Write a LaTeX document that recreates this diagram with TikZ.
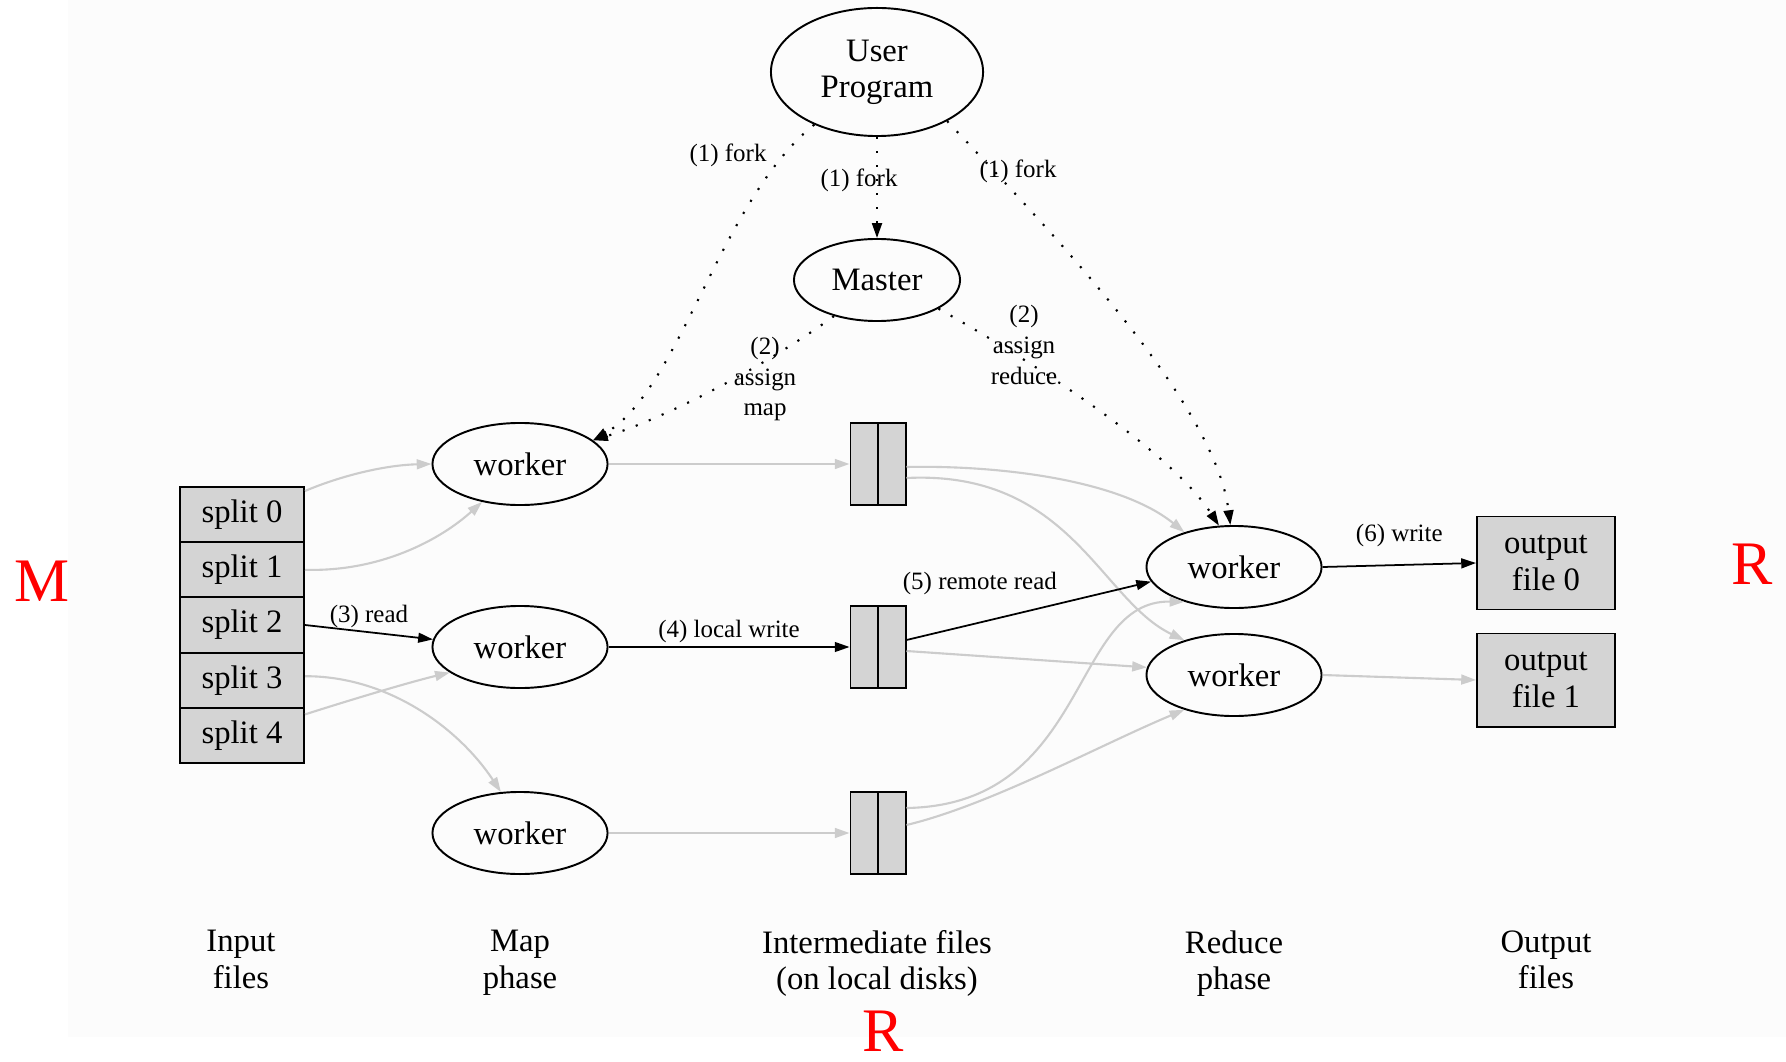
\documentclass[tikz,border=0pt]{standalone}
\usepackage{fontspec}
\setmainfont{Liberation Serif}
\usetikzlibrary{arrows.meta,positioning,calc,shapes.geometric}

\begin{document}
\begin{tikzpicture}[
  x=0.01cm, y=-0.01cm,
  proc/.style={draw, ellipse, line width=0.55pt, minimum width=1.75cm,
    minimum height=0.82cm, inner sep=0pt, align=center,
    font=\fontsize{9.3}{10.3}\selectfont},
  filebox/.style={draw, fill=black!17, line width=0.55pt, inner sep=0pt,
    align=center, font=\fontsize{9.3}{10.7}\selectfont},
  lbl/.style={font=\fontsize{7.1}{8.8}\selectfont, align=center, inner sep=1pt},
  phase/.style={font=\fontsize{9.3}{10.3}\selectfont, align=center,
    anchor=north},
  redtag/.style={text=red, font=\fontsize{17.6}{20}\selectfont},
  data/.style={->, line width=0.5pt},
  faint/.style={data, black!20, line width=0.6pt},
  ctrl/.style={->, line width=0.6pt, dash pattern=on 0.6pt off 3.4pt},
  >={Triangle[length=4.2pt,width=2.8pt]}
]
% background
\fill[black!1] (68,0) rectangle (1786,1037);
\useasboundingbox (0,0) rectangle (1786,1061);

% user program and master
\node[proc, minimum width=2.12cm, minimum height=1.28cm] (up) at (877,72)
  {User\\Program};
\node[proc, minimum width=1.66cm] (master) at (877,280) {Master};

% input splits
\foreach \i/\y in {0/514.6, 1/569.8, 2/625, 3/680.2, 4/735.4}
  \node[filebox, minimum width=1.24cm, minimum height=0.552cm] (split\i)
    at (242,\y) {split \i};

% map workers
\node[proc] (mw0) at (520,464) {worker};
\node[proc] (mw1) at (520,647) {worker};
\node[proc] (mw2) at (520,833) {worker};

% intermediate files
\foreach \i/\y in {0/464, 1/647, 2/833} {
  \node[filebox, minimum width=0.55cm, minimum height=0.82cm] (ifile\i)
    at (878,\y) {};
  \draw[line width=0.55pt] (ifile\i.north) -- (ifile\i.south);
}

% reduce workers
\node[proc] (rw0) at (1234,567) {worker};
\node[proc] (rw1) at (1234,675) {worker};

% output files
\node[filebox, minimum width=1.38cm, minimum height=0.93cm] (out0)
  at (1546,563) {output\\file 0};
\node[filebox, minimum width=1.38cm, minimum height=0.93cm] (out1)
  at (1546,680) {output\\file 1};

% phase labels
\node[phase] (inlbl) at (241,918) {Input\\files};
\node[phase] (maplbl) at (520,918) {Map\\phase};
\node[phase] (midlbl) at (877,918) {Intermediate files\\(on local disks)};
\node[phase] (redlbl) at (1234,918) {Reduce\\phase};
\node[phase] (outlbl) at (1546,918) {Output\\files};

% red tags
\node[redtag] (tagM) at (42,581) {M};
\node[redtag] (tagR) at (1752,564) {R};
\node[redtag] (tagRb) at (883,1031) {R};

% fork and assign
\draw[ctrl] (up.220) .. controls (720,200) and (680,390) .. (mw0.18)
  node[lbl] at (728,155) {(1) fork};
\draw[ctrl] (up.south) -- (master.north)
  node[lbl, pos=0.43, xshift=-0.18cm] {(1) fork};
\draw[ctrl] (up.325) .. controls (1040,220) and (1215,400) .. (rw0.95)
  node[lbl] at (1018,171) {(1) fork};
\draw[ctrl] (master.220) .. controls (760,370) and (660,420) .. (mw0.18)
  node[lbl] at (765,379) {(2)\\assign\\map};
\draw[ctrl] (master.335) .. controls (1030,360) and (1170,450) .. (rw0.110)
  node[lbl] at (1024,345) {(2)\\assign\\reduce};

% splits to map workers
\draw[faint] ($(split0.north east)+(0,5)$) .. controls (340,476) and (385,465)
  .. (mw0.west);
\draw[faint] (split1.east) .. controls (380,572) and (440,540) .. (mw0.225);
\draw[data] (split2.east) -- (mw1.175) node[lbl, midway, above] {(3) read};
\draw[faint] ($(split3.east)+(0,-4)$) .. controls (390,676) and (460,730)
  .. (mw2.115);
\draw[faint] ($(split4.east)+(0,-21)$) .. controls (350,700) and (410,682)
  .. (mw1.200);

% map workers to local disks
\draw[faint] (mw0.east) -- (ifile0.west);
\draw[data] (mw1.east) -- (ifile1.west)
  node[lbl, midway, above] {(4) local write};
\draw[faint] (mw2.east) -- (ifile2.west);

% local disks to reduce workers
\draw[faint] ($(ifile0.east)+(0,3)$) .. controls (1000,465) and (1120,480)
  .. (rw0.145);
\draw[faint] ($(ifile0.east)+(0,14)$) .. controls (1070,470) and (1100,600)
  .. (rw1.145);
\draw[data] ($(ifile1.east)+(0,-7)$) -- (rw0.190)
  node[lbl, pos=0.3, above=6.5pt] {(5) remote read};
\draw[faint] ($(ifile1.east)+(0,4)$) -- (rw1.175);
\draw[faint] ($(ifile2.east)+(0,-25)$) .. controls (1090,805) and (1070,600)
  .. (rw0.215);
\draw[faint] ($(ifile2.east)+(0,-8)$) .. controls (990,805) and (1100,745)
  .. (rw1.215);

% reduce workers to output
\draw[data] (rw0.east) -- (out0.west) node[lbl, midway, above=4pt] {(6) write};
\draw[faint] (rw1.east) -- (out1.west);
\end{tikzpicture}
\end{document}
